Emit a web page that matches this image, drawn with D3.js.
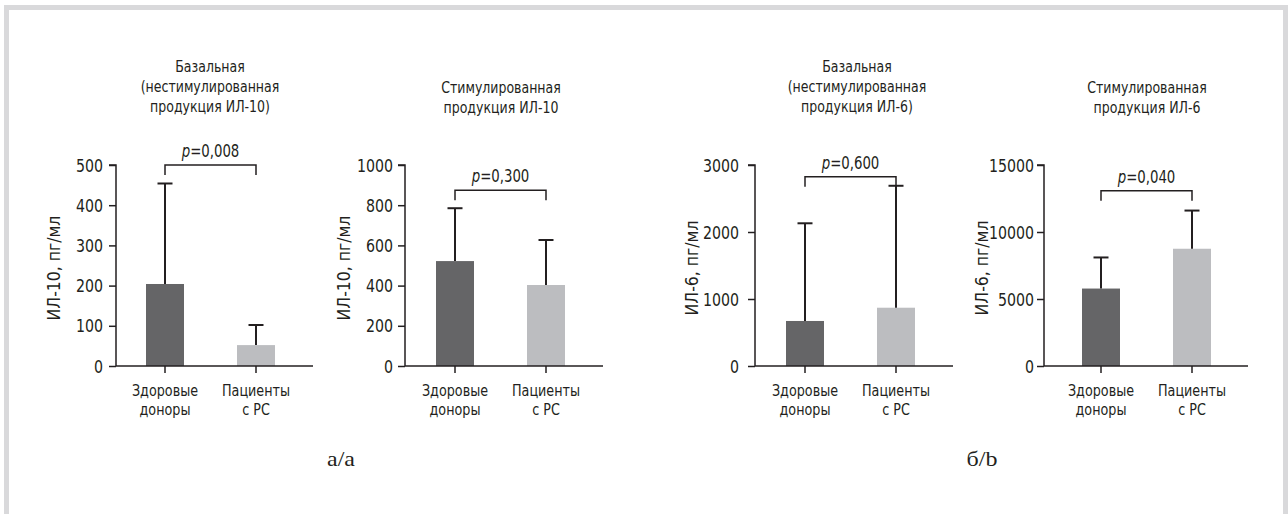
<!DOCTYPE html>
<html><head><meta charset="utf-8">
<script src="https://cdn.jsdelivr.net/npm/d3@7"></script>
<style>
html,body{margin:0;padding:0;background:#fff;}
svg{display:block;}
.t{font-family:"Liberation Sans Narrow","DejaVu Sans Condensed","Roboto",sans-serif;fill:#231f20;}
.cap{font-family:"Liberation Serif","DejaVu Serif",serif;fill:#231f20;}
</style></head>
<body>
<svg id="c" width="1288" height="514"></svg>
<script>
// ---- data ----
const categories = [["Здоровые","доноры"],["Пациенты","с РС"]];
const titles = [
  ["Базальная","(нестимулированная","продукция ИЛ-10)"],
  ["Стимулированная","продукция ИЛ-10"],
  ["Базальная","(нестимулированная","продукция ИЛ-6)"],
  ["Стимулированная","продукция ИЛ-6"]
];
const yLabels = ["ИЛ-10, пг/мл","ИЛ-10, пг/мл","ИЛ-6, пг/мл","ИЛ-6, пг/мл"];
const yMax = [500, 1000, 3000, 15000];
const yTicks = [
  [0,100,200,300,400,500],
  [0,200,400,600,800,1000],
  [0,1000,2000,3000],
  [0,5000,10000,15000]
];
const means = [[204, 52],[522, 403],[672, 870],[5780, 8750]];
const upper = [[454, 102],[785, 627],[2130, 2690],[8100, 11600]];
const pValues = ["0,008","0,300","0,600","0,040"];
const bracketLevel = [500, 875, 2826, 13085];
const panelCaptions = ["а/а","б/b"];

// ---- layout ----
const axisLeft = [116, 405, 755, 1044];
const axisRight = [313, 603, 953, 1248];
const barCenters = [[165,256],[455,546],[805,896],[1101,1192]];
const tickPad = [6, 5, 9, 3];
const titleX = [210, 501, 857, 1147];
const titleTop = [72, 93, 72, 93];
const yLabelX = [60, 350, 698, 988];
const captionX = [341, 982];
const y0 = 366, y1 = 165;
const barW = 38, capW = 15;
const colors = ["#656567", "#bcbdc0"];
const ink = "#231f20";

const svg = d3.select("#c");

// horizontally condense text to mimic a condensed face
function condense(sel, sx, extra) {
  sel.each(function() {
    const el = d3.select(this);
    const x = +(el.attr("x") || 0), y = +(el.attr("y") || 0);
    el.attr("x", 0).attr("y", 0)
      .attr("transform", `translate(${x},${y})${extra || ""} scale(${sx},1)`);
    el.selectAll("tspan").each(function() {
      if (this.hasAttribute("x")) this.setAttribute("x", 0);
    });
  });
}

// frame
svg.append("path")
  .attr("d", `M6.5,514 V7.5 H1285.5 V514`)
  .attr("fill","none").attr("stroke","#d9d9db").attr("stroke-width",5);

for (let i = 0; i < 4; i++) {
  const g = svg.append("g");
  const y = d3.scaleLinear().domain([0, yMax[i]]).range([y0, y1]);
  const x = d3.scalePoint().domain([0,1]).range(barCenters[i]);

  // bars
  g.selectAll("rect.bar").data(means[i]).join("rect")
    .attr("x", (d,j) => x(j) - barW/2)
    .attr("y", d => y(d))
    .attr("width", barW)
    .attr("height", d => y0 - y(d))
    .attr("fill", (d,j) => colors[j]);

  // error bars
  g.selectAll("line.err").data(upper[i]).join("line")
    .attr("x1", (d,j) => x(j)).attr("x2", (d,j) => x(j))
    .attr("y1", (d,j) => y(means[i][j])).attr("y2", d => y(d))
    .attr("stroke", ink).attr("stroke-width", 2);
  g.selectAll("line.cap").data(upper[i]).join("line")
    .attr("x1", (d,j) => x(j) - capW/2).attr("x2", (d,j) => x(j) + capW/2)
    .attr("y1", d => y(d)).attr("y2", d => y(d))
    .attr("stroke", ink).attr("stroke-width", 2);

  // y axis
  const ya = d3.axisLeft(y).tickValues(yTicks[i]).tickSize(7).tickPadding(tickPad[i]).tickFormat(d3.format("d"));
  const gy = g.append("g").attr("transform", `translate(${axisLeft[i]},0)`).call(ya);
  gy.attr("font-family", null).attr("font-size", null);
  gy.select(".domain").attr("d", `M-7,${y1}H0V${y0}`).attr("stroke", ink).attr("stroke-width", 1.5);
  gy.selectAll(".tick line").attr("stroke", ink).attr("stroke-width", 1.5);
  gy.selectAll(".tick text").attr("class","t").attr("font-size", 17.5).attr("fill", ink)
    .attr("dy", null).attr("y", 6);
  condense(gy.selectAll(".tick text"), 0.9);

  // x axis
  g.append("line").attr("x1", axisLeft[i]).attr("x2", axisRight[i])
    .attr("y1", y0).attr("y2", y0).attr("stroke", ink).attr("stroke-width", 1.5);
  g.selectAll("line.xt").data(categories).join("line")
    .attr("x1", (d,j) => x(j)).attr("x2", (d,j) => x(j))
    .attr("y1", y0).attr("y2", y0 + 7).attr("stroke", ink).attr("stroke-width", 1.5);
  const xl = g.selectAll("text.xl").data(categories).join("text")
    .attr("class","t").attr("font-size", 16.5).attr("text-anchor","middle")
    .attr("x", (d,j) => x(j)).attr("y", 396);
  xl.selectAll("tspan").data(d => d).join("tspan")
    .attr("x", 0).attr("dy", (d,k) => k ? 19 : 0).text(d => d);
  condense(xl, 0.86);

  // y label
  g.append("text").attr("class","t").attr("font-size", 18).attr("text-anchor","middle")
    .attr("transform", `translate(${yLabelX[i]},${268}) rotate(-90) scale(0.97,1)`).text(yLabels[i]);

  // title
  const tt = g.append("text").attr("class","t").attr("font-size", 15.5).attr("text-anchor","middle")
    .attr("x", titleX[i]).attr("y", titleTop[i]);
  tt.selectAll("tspan").data(titles[i]).join("tspan")
    .attr("x", 0).attr("dy", (d,k) => k ? 20 : 0).text(d => d);
  condense(tt, 0.9);

  // significance bracket
  const by = y(bracketLevel[i]);
  g.append("path")
    .attr("d", `M${x(0)},${by+10}V${by}H${x(1)}V${by+10}`)
    .attr("fill","none").attr("stroke", ink).attr("stroke-width", 1.5);
  const pt = g.append("text").attr("class","t").attr("font-size", 17).attr("text-anchor","middle")
    .attr("x", (x(0)+x(1))/2).attr("y", by - 8);
  pt.append("tspan").attr("font-style","italic").text("p");
  pt.append("tspan").text("=" + pValues[i]);
  condense(pt, 0.87);
}

const capt = svg.selectAll("text.capt").data(panelCaptions).join("text")
  .attr("class","cap").attr("font-size", 20).attr("text-anchor","middle")
  .attr("x", (d,i) => captionX[i]).attr("y", 466).text(d => d);
condense(capt, 1.2);
</script>
</body></html>
